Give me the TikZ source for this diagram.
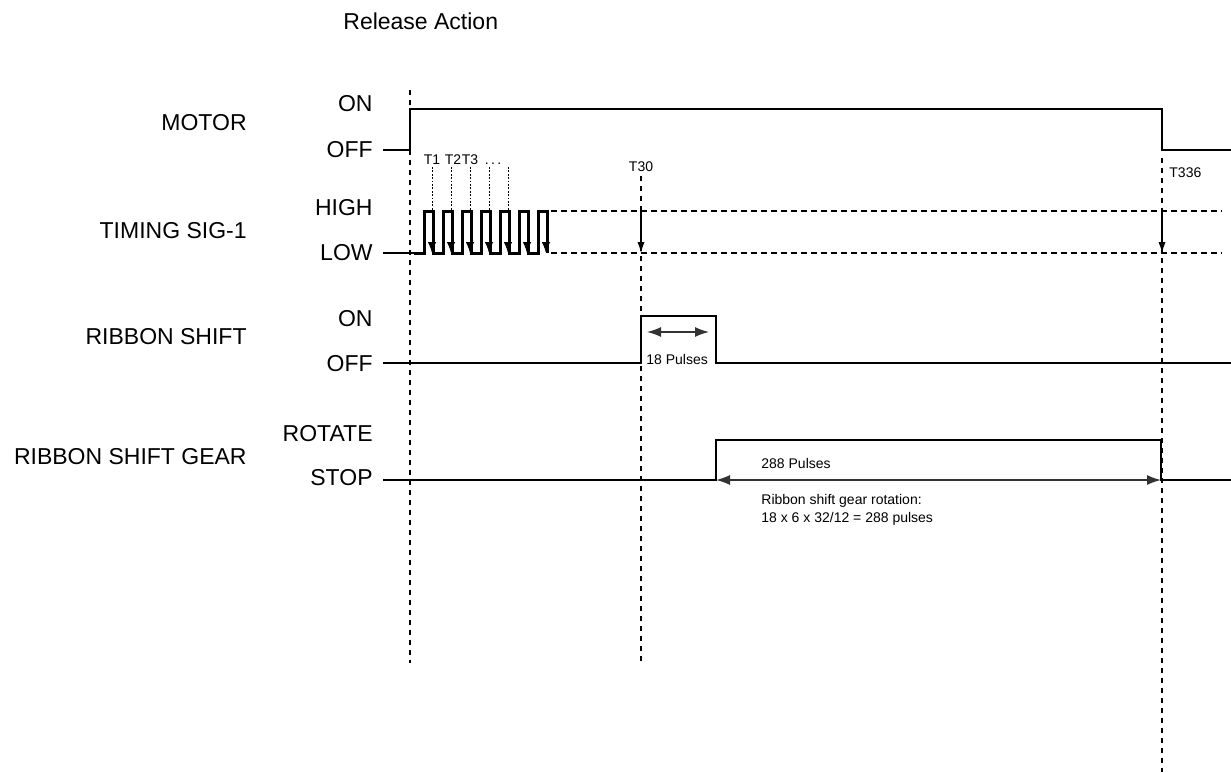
\documentclass[tikz,border=0pt]{standalone}
\usepackage{fontspec}
\setmainfont{Liberation Sans}
\usetikzlibrary{arrows.meta,positioning}

\begin{document}
\begin{tikzpicture}[x=0.5pt,y=-0.5pt,
    sig/.style={line width=0.65pt},
    pulse/.style={line width=1.5pt},
    guide/.style={line width=0.6pt, dash pattern=on 2.5pt off 2.5pt},
    hguide/.style={line width=0.6pt, dash pattern=on 3pt off 2pt},
    stem/.style={line width=0.5pt, dash pattern=on 0.9pt off 0.8pt, -{Latex[length=5.5pt,width=4.2pt]}},
    hit/.style={line width=0.6pt, -{Latex[length=5.5pt,width=3.6pt]}},
    span/.style={line width=0.7pt, black!80,
                 {Latex[length=7pt,width=5pt]}-{Latex[length=7pt,width=5pt]}},
    signame/.style={anchor=east, inner sep=0pt, font=\fontsize{11.5}{13}\selectfont},
    lvl/.style={anchor=east, inner sep=0pt, font=\fontsize{11.5}{13}\selectfont},
    small/.style={inner sep=0pt, font=\fontsize{7}{8.4}\selectfont}]
  \useasboundingbox (0,0) rectangle (1231,772);

  % time instants and levels
  \coordinate (st)   at (383,0);
  \coordinate (t0)   at (410,0);
  \coordinate (p0)   at (414,0);
  \coordinate (t30)  at (641,0);
  \coordinate (rs)   at (716,0);
  \coordinate (gf)   at (1161,0);
  \coordinate (t336) at (1162,0);
  \coordinate (rt)   at (1231,0);
  \coordinate (dz)   at (551,0);
  \coordinate (de)   at (1222,0);
  \coordinate (mOn)  at (0,109);
  \coordinate (mOff) at (0,150);
  \coordinate (tTop) at (0,167);
  \coordinate (hi)   at (0,211);
  \coordinate (lo)   at (0,253);
  \coordinate (sOn)  at (0,316);
  \coordinate (sOff) at (0,363);
  \coordinate (gOn)  at (0,440);
  \coordinate (gOff) at (0,480);

  % labels
  \node[anchor=west, inner sep=0pt, font=\fontsize{11.5}{13}\selectfont] (title) at (343,21) {Release Action};
  \node[signame] (motor)  at (247,123) {MOTOR};
  \node[signame] (timing) at (247,231) {TIMING SIG-1};
  \node[signame] (shift)  at (247,337) {RIBBON SHIFT};
  \node[signame] (gear)   at (247,457) {RIBBON SHIFT GEAR};
  \node[lvl] (mOnL)  at (373,104) {ON};
  \node[lvl] (mOffL) at (373,150) {OFF};
  \node[lvl] (hiL)   at (373,208) {HIGH};
  \node[lvl] (loL)   at (373,253) {LOW};
  \node[lvl] (sOnL)  at (373,319) {ON};
  \node[lvl] (sOffL) at (373,364) {OFF};
  \node[lvl] (gOnL)  at (373,434) {ROTATE};
  \node[lvl] (gOffL) at (373,478) {STOP};
  \node[small, anchor=base] (T1) at (432,164) {T1};
  \node[small, anchor=base] (T2) at (453,164) {T2};
  \node[small, anchor=base] (T3) at (470,164) {T3};
  \node[small, anchor=base] (Tdots) at (493,164) {.\hspace{1.2pt}.\hspace{1.2pt}.};
  \node[small, anchor=base] (T30) at (641,171) {T30};
  \node[small, anchor=base west] (T336) at (1169,177) {T336};
  \node[small, anchor=base west] (p18)  at (646,364) {18 Pulses};
  \node[small, anchor=base west] (p288) at (761,468) {288 Pulses};
  \node[small, anchor=base west] (calc1) at (761,504.5) {Ribbon shift gear rotation:};
  \node[small, anchor=base west] (calc2) at (761,522) {18 x 6 x 32/12 = 288 pulses};

  % guide lines
  \draw[guide] (t0 |- 0,90) -- (t0 |- 0,663);
  \draw[guide] (t30 |- 0,176) -- (t30 |- 0,663);
  \draw[guide] (t336 |- 0,158) -- (t336 |- 0,772);
  \draw[hguide] (dz |- hi) -- (de |- hi);
  \draw[hguide] (dz |- lo) -- (de |- lo);

  % motor
  \draw[sig] (st |- mOff) -- (t0 |- mOff) |- (t336 |- mOn) |- (rt |- mOff);

  % timing signal
  \draw[sig] (st |- lo) -- (p0 |- lo);
  \draw[pulse] (p0 |- lo) \foreach \k in {0,...,6} {
      -- ({424+19*\k},253) |- ({433+19*\k},211) -- ({433+19*\k},253) };
  \foreach \k in {0,...,6} \coordinate (f\k) at ({432+19*\k},0);
  \foreach \k in {0,...,4} \draw[stem] (f\k |- tTop) -- (f\k |- lo);
  \foreach \k in {5,6} \draw[stem] (f\k |- hi) -- (f\k |- lo);
  \draw[hit] (t30 |- hi) -- (t30 |- lo);
  \draw[hit] (t336 |- hi) -- (t336 |- lo);

  % ribbon shift
  \draw[sig] (st |- sOff) -- (t30 |- sOff) |- (rs |- sOn) |- (rt |- sOff);
  \coordinate (a1) at (647,332);
  \coordinate (a2) at (709,332);
  \draw[span] (a1) -- (a2);

  % ribbon shift gear
  \draw[sig] (st |- gOff) -- (rs |- gOff) |- (gf |- gOn) |- (rt |- gOff);
  \draw[span] (rs |- gOff) -- (gf |- gOff);
\end{tikzpicture}
\end{document}
